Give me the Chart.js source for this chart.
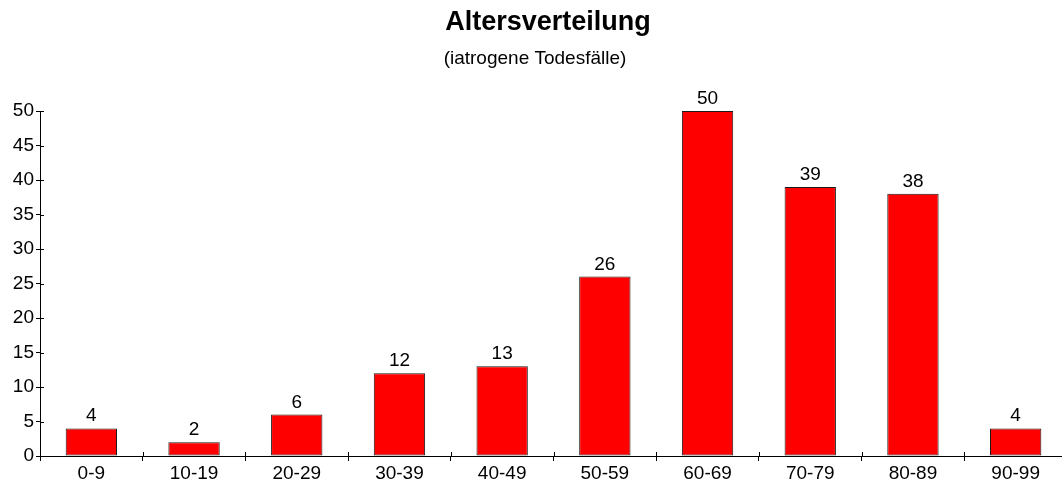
<!DOCTYPE html>
<html>
<head>
<meta charset="utf-8">
<script src="https://cdn.jsdelivr.net/npm/chart.js@4/dist/chart.umd.min.js"></script>
<style>
  html, body { margin: 0; padding: 0; background: #fff; overflow: hidden; }
  #wrap { position: relative; width: 1068px; height: 483px; }
</style>
</head>
<body>
<div id="wrap"><canvas id="c"></canvas></div>
<script>
// Altersgruppen und Anzahl der Fälle
const ageGroups = ['0-9', '10-19', '20-29', '30-39', '40-49', '50-59', '60-69', '70-79', '80-89', '90-99'];
const cases = [4, 2, 6, 12, 13, 26, 50, 39, 38, 4];
const yTicks = [0, 5, 10, 15, 20, 25, 30, 35, 40, 45, 50];

const titleText = 'Altersverteilung';
const subtitleText = '(iatrogene Todesfälle)';

const FONT = '"Liberation Sans", Arial, Helvetica, sans-serif';

// Überschrift und Unterüberschrift
const headingPlugin = {
  id: 'heading',
  afterDraw(chart) {
    const ctx = chart.ctx;
    ctx.save();
    ctx.fillStyle = '#000';
    ctx.textAlign = 'center';
    ctx.textBaseline = 'alphabetic';
    ctx.font = 'bold 27px ' + FONT;
    ctx.fillText(titleText, 548, 30);
    ctx.font = '19px ' + FONT;
    ctx.fillText(subtitleText, 535, 64);
    ctx.restore();
  }
};

// Teilstriche, die die Achsen nach innen kreuzen
const innerTicksPlugin = {
  id: 'innerTicks',
  afterDraw(chart) {
    const ctx = chart.ctx;
    const x = chart.scales.x, y = chart.scales.y;
    ctx.save();
    ctx.strokeStyle = '#000';
    ctx.lineWidth = 1;
    ctx.beginPath();
    y.ticks.forEach(t => {
      const py = Math.round(y.getPixelForValue(t.value)) + 0.5;
      ctx.moveTo(x.left, py);
      ctx.lineTo(x.left + 4, py);
    });
    for (let i = 1; i < ageGroups.length; i++) {
      const px = Math.round((x.getPixelForValue(i - 1) + x.getPixelForValue(i)) / 2) + 0.5;
      ctx.moveTo(px, y.bottom);
      ctx.lineTo(px, y.bottom - 4);
    }
    ctx.stroke();
    ctx.restore();
  }
};

// Werte über den Balken
const valueLabelsPlugin = {
  id: 'valueLabels',
  afterDatasetsDraw(chart) {
    const ctx = chart.ctx;
    const meta = chart.getDatasetMeta(0);
    ctx.save();
    ctx.fillStyle = '#000';
    ctx.font = '19px ' + FONT;
    ctx.textAlign = 'center';
    ctx.textBaseline = 'alphabetic';
    meta.data.forEach((bar, i) => {
      ctx.fillText(String(cases[i]), bar.x, bar.y - 7);
    });
    ctx.restore();
  }
};

new Chart(document.getElementById('c'), {
  type: 'bar',
  data: {
    labels: ageGroups,
    datasets: [{
      data: cases,
      backgroundColor: '#ff0000',
      borderColor: '#1a1a1a',
      borderWidth: 1,
      borderSkipped: false,
      barPercentage: 0.5,
      categoryPercentage: 1.0
    }]
  },
  options: {
    responsive: true,
    maintainAspectRatio: false,
    animation: false,
    devicePixelRatio: 1,
    layout: { padding: { left: 0, right: 1, top: 111, bottom: 0 } },
    plugins: {
      legend: { display: false },
      title: { display: false },
      tooltip: { enabled: false }
    },
    scales: {
      x: {
        offset: true,
        afterFit(scale) { scale.height = 27; },
        grid: {
          offset: true,
          drawOnChartArea: false,
          drawTicks: true,
          tickLength: 5,
          color: '#000'
        },
        border: { color: '#000', width: 1 },
        ticks: {
          color: '#000',
          font: { family: FONT, size: 19 },
          padding: 1,
          maxRotation: 0,
          autoSkip: false
        }
      },
      y: {
        min: 0,
        max: 50,
        afterFit(scale) { scale.width = 40; },
        afterBuildTicks(scale) { scale.ticks = yTicks.map(v => ({ value: v })); },
        grid: {
          drawOnChartArea: false,
          drawTicks: true,
          tickLength: 4,
          color: '#000'
        },
        border: { color: '#000', width: 1 },
        ticks: {
          color: '#000',
          font: { family: FONT, size: 19 },
          padding: 2
        }
      }
    }
  },
  plugins: [headingPlugin, innerTicksPlugin, valueLabelsPlugin]
});
</script>
</body>
</html>
